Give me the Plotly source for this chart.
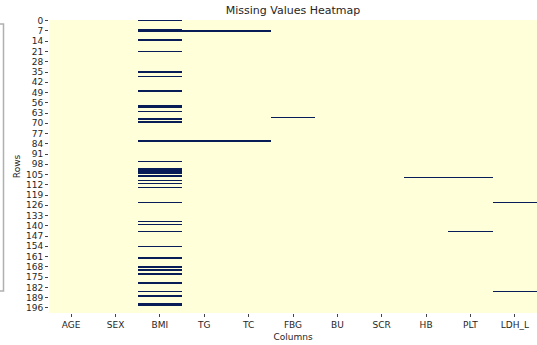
import plotly.graph_objects as go

columns = ["AGE", "SEX", "BMI", "TG", "TC", "FBG", "BU", "SCR", "HB", "PLT", "LDH_L"]
n_rows = 200
row_ticks = list(range(0, 197, 7))

# row indices with missing values, per column
missing_AGE = []
missing_SEX = []
missing_BMI = [0, 6, 7, 13, 21, 35, 38, 48, 58, 59, 62, 67, 69, 82, 96,
               101, 102, 103, 104, 106, 109, 111, 114, 124, 137, 139, 144,
               154, 162, 168, 170, 173, 179, 185, 188, 193, 194]
missing_TG = [7, 82]
missing_TC = [7, 82]
missing_FBG = [66]
missing_BU = []
missing_SCR = []
missing_HB = [107]
missing_PLT = [107, 144]
missing_LDH_L = [124, 185]

missing = [missing_AGE, missing_SEX, missing_BMI, missing_TG, missing_TC,
           missing_FBG, missing_BU, missing_SCR, missing_HB, missing_PLT,
           missing_LDH_L]

z = [[1 if r in missing[c] else 0 for c in range(len(columns))] for r in range(n_rows)]

fig = go.Figure(go.Heatmap(
    z=z,
    x=columns,
    y=list(range(n_rows)),
    colorscale=[[0, "#ffffd9"], [1, "#081d58"]],
    zmin=0, zmax=1,
    showscale=False,
    hoverongaps=False,
))

W, H = 537, 345
L, R, T, B = 49, 0, 20, 32

fig.update_layout(
    width=W, height=H,
    margin=dict(l=L, r=R, t=T, b=B),
    paper_bgcolor="white",
    plot_bgcolor="white",
    font=dict(family="DejaVu Sans", size=9, color="#262626"),
    title=dict(text="Missing Values Heatmap", x=(L + (W - L) / 2) / W, xanchor="center",
               y=1 - 10 / H, yanchor="middle", font=dict(size=11, color="#262626")),
    showlegend=False,
)

fig.update_xaxes(
    showgrid=False, zeroline=False, showline=False,
    ticks="outside", ticklen=3, tickcolor="#444", tickwidth=1,
    tickfont=dict(size=9),
    title=dict(text="Columns", font=dict(size=9), standoff=4),
)
fig.update_yaxes(
    showgrid=False, zeroline=False, showline=False,
    range=[n_rows - 0.5, -0.5],
    tickmode="array", tickvals=row_ticks, ticktext=[str(v) for v in row_ticks],
    ticks="outside", ticklen=3, tickcolor="#444", tickwidth=1,
    tickfont=dict(size=9),
    title=dict(text="Rows", font=dict(size=9), standoff=3),
)

# partial border of a neighbouring element at the far left edge
pw = W - L - R
ph = H - T - B
xl = (0 - L) / pw
xr = (3.5 - L) / pw
yt = (H - B - 24) / ph
yb = (H - B - 291) / ph
fig.add_shape(type="path", xref="paper", yref="paper",
              path=f"M {xl},{yt} L {xr},{yt} L {xr},{yb} L {xl},{yb}",
              line=dict(color="#b0b0b0", width=1.5))

fig.write_html("out.html")
